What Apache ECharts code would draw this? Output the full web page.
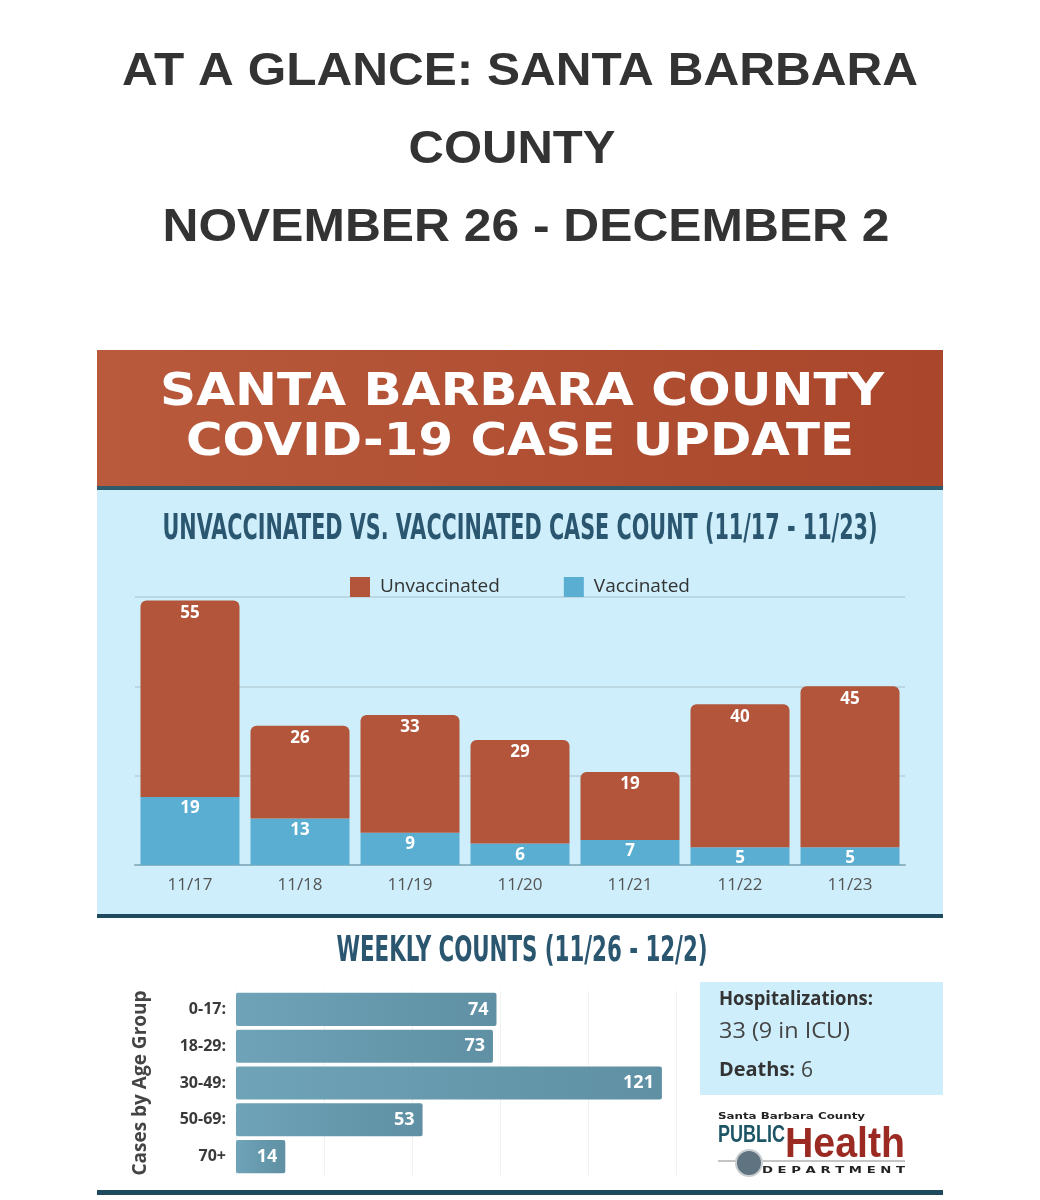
<!DOCTYPE html>
<html>
<head>
<meta charset="utf-8">
<title>Santa Barbara County COVID-19</title>
<script src="https://cdn.jsdelivr.net/npm/echarts@6/dist/echarts.min.js"></script>
<style>
  html, body { margin: 0; padding: 0; background: #fff; }
  #chart { width: 1040px; height: 1200px; }
</style>
</head>
<body>
<div id="chart"></div>
<script>
// daily case counts (11/17 - 11/23)
var dates = ["11/17", "11/18", "11/19", "11/20", "11/21", "11/22", "11/23"];
var unvaccinated = [55, 26, 33, 29, 19, 40, 45];
var vaccinated = [19, 13, 9, 6, 7, 5, 5];

// weekly counts by age group (11/26 - 12/2)
var ageGroups = ["0-17:", "18-29:", "30-49:", "50-69:", "70+"];
var ageCases = [74, 73, 121, 53, 14];

var titleLines = ["AT A GLANCE: SANTA BARBARA", "COUNTY", "NOVEMBER 26 - DECEMBER 2"];
var hospitalizations = "33 (9 in ICU)";
var deaths = "6";

var RED = "#b3553a";
var BLUE = "#5aaed2";
var LIGHT = "#cdeefa";
var NAVY = "#1f4a5e";

// measure text so that condensed headings can be squeezed to the width in the picture
var measureCtx = document.createElement("canvas").getContext("2d");
function fit(text, font, width) {
  measureCtx.font = font;
  return width / measureCtx.measureText(text).width;
}
function txt(text, x, y, font, fill, width, align) {
  return {
    type: "text",
    x: x,
    y: y,
    scaleX: width ? fit(text, font, width) : 1,
    z: 100,
    style: {
      text: text,
      font: font,
      fill: fill,
      align: align || "center",
      verticalAlign: "middle",
    },
  };
}
function box(x, y, w, h, fill) {
  return { type: "rect", z: -10, shape: { x: x, y: y, width: w, height: h }, style: { fill: fill } };
}

var chart = echarts.init(document.getElementById("chart"));

var TITLE_FONT = 'bold 46px "Liberation Sans", Arial, sans-serif';
var HEAD_FONT = 'bold 45px "DejaVu Sans", sans-serif';
var SUB_FONT = 'bold 36px "Liberation Sans Narrow", "DejaVu Sans Condensed", sans-serif';

var graphic = [
  // backgrounds
  {
    type: "rect",
    z: -10,
    shape: { x: 97, y: 350, width: 846, height: 137 },
    style: {
      fill: new echarts.graphic.LinearGradient(0, 0, 1, 0, [
        { offset: 0, color: "#b95a3c" },
        { offset: 1, color: "#a9462b" },
      ]),
    },
  },
  box(97, 486, 846, 4, "#2f5a6b"),
  box(97, 490, 846, 424, LIGHT),
  box(97, 914, 846, 4, NAVY),
  box(700, 982, 243, 113, LIGHT),
  box(97, 1190, 846, 5, NAVY),

  // page title
  txt(titleLines[0], 520, 72, TITLE_FONT, "#333333", 796),
  txt(titleLines[1], 512, 150, TITLE_FONT, "#333333", 207),
  txt(titleLines[2], 526, 228, TITLE_FONT, "#333333", 727),

  // header band
  txt("SANTA BARBARA COUNTY", 522, 393, HEAD_FONT, "#ffffff", 724),
  txt("COVID-19 CASE UPDATE", 520, 443, HEAD_FONT, "#ffffff", 668),

  // section headings
  txt("UNVACCINATED VS. VACCINATED CASE COUNT (11/17 - 11/23)", 520, 530, SUB_FONT, "#2b5670", 715),
  txt("WEEKLY COUNTS (11/26 - 12/2)", 522, 952, SUB_FONT, "#2b5670", 371),

  // hospitalizations box
  txt("Hospitalizations:", 719, 1000, 'bold 19px "Open Sans", sans-serif', "#333333", 154, "left"),
  txt(hospitalizations, 719, 1032, '21px "Open Sans", sans-serif', "#444444", 131, "left"),
  txt("Deaths:", 719, 1071, 'bold 19px "Open Sans", sans-serif', "#333333", 76, "left"),
  txt(deaths, 801, 1071, '21px "Open Sans", sans-serif', "#444444", null, "left"),

  // public health logo
  txt("Santa Barbara County", 718, 1117, 'bold 9px "DejaVu Sans", sans-serif', "#222222", 147, "left"),
  txt("PUBLIC", 718, 1135, 'bold 24px "Liberation Sans Narrow", sans-serif', "#1d5566", 67, "left"),
  txt("Health", 785, 1145, 'bold 42px "Liberation Sans", sans-serif', "#9b2a22", 120, "left"),
  {
    type: "line",
    z: 50,
    shape: { x1: 718, y1: 1161, x2: 905, y2: 1161 },
    style: { stroke: "#8a8a8a", lineWidth: 1 },
  },
  txt("D E P A R T M E N T", 762, 1171, 'bold 9px "DejaVu Sans", sans-serif', "#222222", 143, "left"),
  {
    type: "circle",
    z: 60,
    shape: { cx: 749, cy: 1163, r: 13 },
    style: { fill: "#5f7480", stroke: "#c9ced2", lineWidth: 2 },
  },
];

var option = {
  animation: false,
  backgroundColor: "#ffffff",
  textStyle: { fontFamily: '"Open Sans", sans-serif' },
  graphic: graphic,
  legend: {
    top: 572,
    left: 345,
    icon: "rect",
    itemWidth: 20,
    itemHeight: 20,
    itemGap: 64,
    textStyle: { fontSize: 19, color: "#333333", padding: [0, 0, 0, 5] },
    data: ["Unvaccinated", "Vaccinated"],
  },
  grid: [
    { left: 135, right: 135, top: 597, height: 268 },
    { left: 236, width: 440, top: 991, height: 184 },
  ],
  xAxis: [
    {
      gridIndex: 0,
      type: "category",
      data: dates,
      axisLine: { lineStyle: { color: "#8eb3c3", width: 2 } },
      axisTick: { show: false },
      axisLabel: { color: "#555555", fontSize: 17, margin: 12 },
    },
    {
      gridIndex: 1,
      type: "value",
      min: 0,
      max: 125,
      interval: 25,
      axisLine: { show: false },
      axisTick: { show: false },
      axisLabel: { show: false },
      splitLine: { lineStyle: { color: "#f0f0f0" } },
    },
  ],
  yAxis: [
    {
      gridIndex: 0,
      type: "value",
      min: 0,
      max: 75,
      interval: 25,
      axisLine: { show: false },
      axisTick: { show: false },
      axisLabel: { show: false },
      splitLine: { lineStyle: { color: "#b3cfda", width: 1.5 } },
    },
    {
      gridIndex: 1,
      type: "category",
      inverse: true,
      data: ageGroups,
      axisLine: { show: false },
      axisTick: { show: false },
      axisLabel: { color: "#3a3a3a", fontSize: 16, fontWeight: "bold", margin: 10 },
      name: "Cases by Age Group",
      nameLocation: "middle",
      nameRotate: 90,
      nameGap: 86,
      nameTextStyle: { color: "#444444", fontSize: 19, fontWeight: "bold" },
    },
  ],
  series: [
    {
      name: "Vaccinated",
      type: "bar",
      stack: "cases",
      xAxisIndex: 0,
      yAxisIndex: 0,
      barCategoryGap: "10%",
      itemStyle: { color: BLUE },
      label: {
        show: true,
        position: "insideTop",
        distance: 3,
        color: "#ffffff",
        fontSize: 17,
        fontWeight: "bold",
      },
      data: vaccinated,
    },
    {
      name: "Unvaccinated",
      type: "bar",
      stack: "cases",
      xAxisIndex: 0,
      yAxisIndex: 0,
      barCategoryGap: "10%",
      itemStyle: { color: RED, borderRadius: [6, 6, 0, 0] },
      label: {
        show: true,
        position: "insideTop",
        distance: 4,
        color: "#ffffff",
        fontSize: 17,
        fontWeight: "bold",
      },
      data: unvaccinated,
    },
    {
      name: "Cases by age",
      type: "bar",
      xAxisIndex: 1,
      yAxisIndex: 1,
      barCategoryGap: "10%",
      itemStyle: {
        borderRadius: 2,
        color: new echarts.graphic.LinearGradient(0, 0, 1, 0, [
          { offset: 0, color: "#6fa3b7" },
          { offset: 1, color: "#5f90a4" },
        ]),
      },
      label: {
        show: true,
        position: "insideRight",
        distance: 8,
        color: "#ffffff",
        fontSize: 18,
        fontWeight: "bold",
      },
      data: ageCases,
    },
  ],
};

chart.setOption(option);
</script>
</body>
</html>
